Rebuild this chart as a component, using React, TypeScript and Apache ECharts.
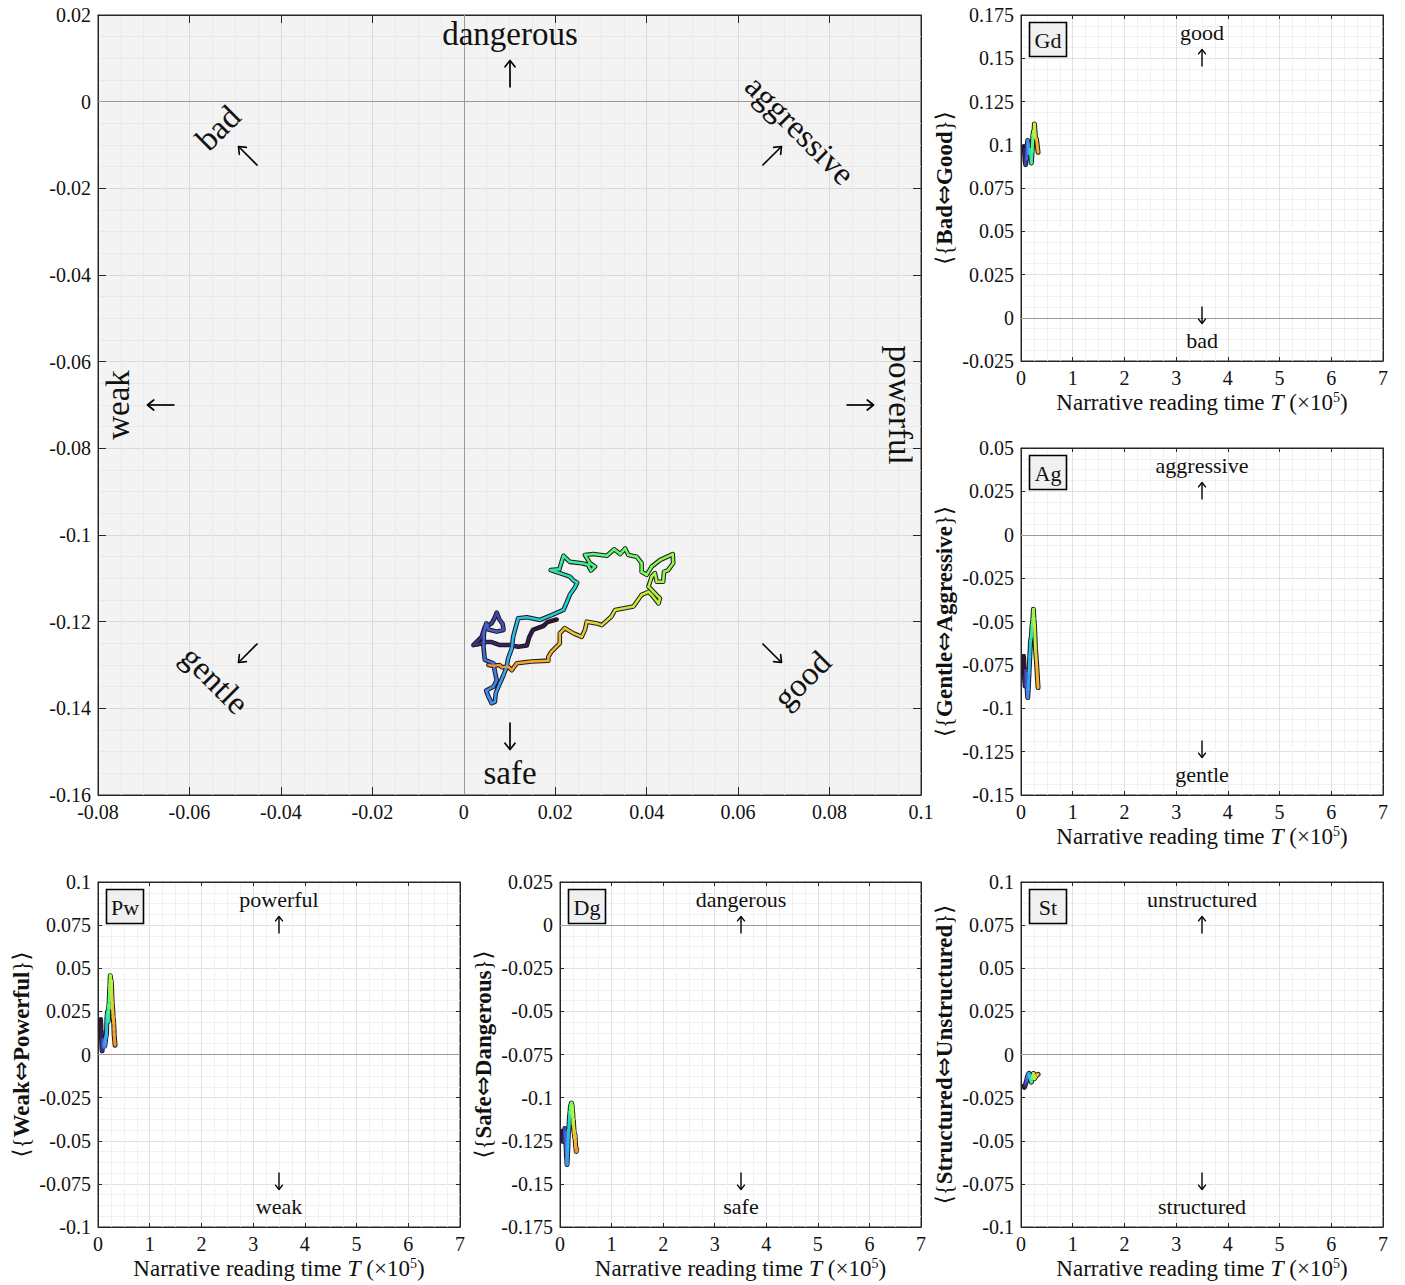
import React, { useEffect, useRef } from 'react';
import * as echarts from 'echarts';

// ---------- DATA ----------
// narrative reading time (x10^5) for each trajectory sample
const T = [
  0.050, 0.0525, 0.055, 0.0575, 0.060, 0.0625, 0.065, 0.0675, 0.070, 0.0725, 0.075, 0.0775, 0.080,
  0.083, 0.085, 0.088, 0.091, 0.093, 0.096, 0.099, 0.101, 0.104, 0.107, 0.109, 0.112, 0.115, 0.117,
  0.120, 0.123, 0.125, 0.128, 0.131, 0.133, 0.136, 0.139, 0.141, 0.144, 0.147, 0.150,
  0.153, 0.155, 0.158, 0.161, 0.163, 0.166, 0.168, 0.171, 0.174, 0.176, 0.179, 0.182, 0.184, 0.187,
  0.189, 0.192, 0.195, 0.197, 0.200,
  0.202, 0.203, 0.205, 0.207, 0.208, 0.210, 0.212, 0.213, 0.215, 0.217, 0.218, 0.220, 0.222, 0.223,
  0.225, 0.227, 0.228, 0.230,
  0.232, 0.234, 0.236, 0.238, 0.240, 0.241, 0.243, 0.245, 0.247, 0.249, 0.251, 0.253, 0.255, 0.256,
  0.258, 0.260, 0.262,
  0.265, 0.268, 0.271, 0.274, 0.277, 0.280, 0.283, 0.286, 0.288, 0.291, 0.294, 0.297, 0.300, 0.303,
  0.306, 0.309, 0.312, 0.315, 0.318, 0.321, 0.324, 0.327, 0.330,
];

// Weak <-> Powerful
const PW = [
  0.0203, 0.0183, 0.0174, 0.0151, 0.0143, 0.0138, 0.0119, 0.0101, 0.0079, 0.0061, 0.0043, 0.0032, 0.0021,
  0.0039, 0.0046, 0.0061, 0.0068, 0.0072, 0.0078, 0.0085, 0.0087, 0.0072, 0.0054, 0.0049, 0.0044, 0.0043,
  0.0046, 0.0065, 0.0068, 0.0072, 0.0065, 0.0049, 0.0054, 0.0061, 0.0068, 0.0070, 0.0079, 0.0087, 0.0094,
  0.0097, 0.0105, 0.0108, 0.0112, 0.0119, 0.0138, 0.0167, 0.0192, 0.0218, 0.0225, 0.0232, 0.0243, 0.0248,
  0.0240, 0.0232, 0.0210, 0.0190, 0.0209, 0.0214,
  0.0218, 0.0232, 0.0258, 0.0272, 0.0278, 0.0287, 0.0276, 0.0265, 0.0283, 0.0313, 0.0329, 0.0342, 0.0353,
  0.0360, 0.0378, 0.0389, 0.0389, 0.0400,
  0.0411, 0.0429, 0.0457, 0.0458, 0.0447, 0.0438, 0.0436, 0.0422, 0.0418, 0.0411, 0.0404, 0.0415, 0.0429,
  0.0426, 0.0411, 0.0404, 0.0389,
  0.0371, 0.0331, 0.0323, 0.0302, 0.0291, 0.0269, 0.0265, 0.0258, 0.0240, 0.0221, 0.0210, 0.0210, 0.0192,
  0.0185, 0.0185, 0.0148, 0.0116, 0.0105, 0.0097, 0.0083, 0.0078, 0.0065, 0.0054,
];

// Safe <-> Dangerous
const DG = [
  -0.1195, -0.1201, -0.1210, -0.1219, -0.1236, -0.1255, -0.1258, -0.1254, -0.1254, -0.1247, -0.1247, -0.1252, -0.1254,
  -0.1235, -0.1212, -0.1204, -0.1190, -0.1179, -0.1195, -0.1205, -0.1219, -0.1223, -0.1218, -0.1204, -0.1227, -0.1258,
  -0.1288, -0.1296, -0.1315, -0.1335, -0.1350, -0.1359, -0.1373, -0.1388, -0.1385, -0.1365, -0.1342, -0.1323, -0.1304,
  -0.1285, -0.1262, -0.1235, -0.1219, -0.1192, -0.1190, -0.1196, -0.1185, -0.1173, -0.1156, -0.1138, -0.1121, -0.1110,
  -0.1105, -0.1096, -0.1088, -0.1081, -0.1079, -0.1062,
  -0.1048, -0.1062, -0.1065, -0.1069, -0.1082, -0.1073, -0.1065, -0.1046, -0.1044, -0.1048, -0.1033, -0.1044, -0.1031,
  -0.1046, -0.1050, -0.1065, -0.1085, -0.1092,
  -0.1073, -0.1058, -0.1044, -0.1065, -0.1081, -0.1085, -0.1108, -0.1108, -0.1088, -0.1096, -0.1119, -0.1131, -0.1146,
  -0.1158, -0.1138, -0.1131, -0.1138,
  -0.1165, -0.1173, -0.1188, -0.1208, -0.1204, -0.1200, -0.1219, -0.1235, -0.1227, -0.1215, -0.1227, -0.1250, -0.1269,
  -0.1281, -0.1290, -0.1292, -0.1296, -0.1312, -0.1304, -0.1305, -0.1300, -0.1302, -0.1300,
];

const PANEL_T = [0.05, 0.065, 0.08, 0.09, 0.10, 0.11, 0.12, 0.13, 0.14, 0.155, 0.17, 0.185, 0.20, 0.215, 0.23, 0.24, 0.25, 0.26, 0.28, 0.30, 0.33];
const GD = [0.0989, 0.0974, 0.0901, 0.0885, 0.0923, 0.0919, 0.0995, 0.1025, 0.1005, 0.0950, 0.0974, 0.0951, 0.0895, 0.0962, 0.1055, 0.1077, 0.1066, 0.1120, 0.1039, 0.1032, 0.0957];
const AG = [-0.0701, -0.0805, -0.0872, -0.0783, -0.0800, -0.0859, -0.0893, -0.0938, -0.0893, -0.0797, -0.0702, -0.0612, -0.0587, -0.0520, -0.0489, -0.0429, -0.0484, -0.0518, -0.0658, -0.0735, -0.0881];
const ST = [-0.0185, -0.0190, -0.0180, -0.0170, -0.0160, -0.0150, -0.0135, -0.0125, -0.0115, -0.0110, -0.0125, -0.0145, -0.0160, -0.0140, -0.0120, -0.0110, -0.0125, -0.0140, -0.0130, -0.0120, -0.0115];

const TIME_RANGE = [0.05, 0.33];
const TURBO = ['#30123b', '#3a2a78', '#4454c4', '#4680f5', '#35aef7', '#1fd3d0', '#3cef98', '#7dfd5a', '#b9f53a', '#e4d038', '#f6ab33', '#f48a2c'];

// ---------- STYLE / LAYOUT ----------
const SERIF = '"Liberation Serif","DejaVu Serif",serif';
const SYM = '"DejaVu Sans","DejaVu Serif",sans-serif';
const INK = '#111111';
const AX = '#262626';

const GRIDS = [
  { left: 98, top: 15, width: 823, height: 780, bg: '#f3f3f3' },
  { left: 1021, top: 15, width: 362, height: 346, bg: '#ffffff' },
  { left: 1021, top: 448, width: 362, height: 347, bg: '#ffffff' },
  { left: 98, top: 882, width: 362, height: 345, bg: '#ffffff' },
  { left: 560, top: 882, width: 361, height: 345, bg: '#ffffff' },
  { left: 1021, top: 882, width: 362, height: 345, bg: '#ffffff' },
];
const X_SPEC = [
  { min: -0.08, max: 0.1, interval: 0.02, minor: 4 },
  { min: 0, max: 7, interval: 1, minor: 4 },
  { min: 0, max: 7, interval: 1, minor: 4 },
  { min: 0, max: 7, interval: 1, minor: 4 },
  { min: 0, max: 7, interval: 1, minor: 4 },
  { min: 0, max: 7, interval: 1, minor: 4 },
];
const Y_SPEC = [
  { min: -0.16, max: 0.02, interval: 0.02, minor: 4 },
  { min: -0.025, max: 0.175, interval: 0.025, minor: 4 },
  { min: -0.15, max: 0.05, interval: 0.025, minor: 4 },
  { min: -0.1, max: 0.1, interval: 0.025, minor: 4 },
  { min: -0.175, max: 0.025, interval: 0.025, minor: 4 },
  { min: -0.1, max: 0.1, interval: 0.025, minor: 4 },
];
const PANELS = [
  { grid: 1, tag: 'Gd', up: 'good', down: 'bad', lo: 'Bad', hi: 'Good' },
  { grid: 2, tag: 'Ag', up: 'aggressive', down: 'gentle', lo: 'Gentle', hi: 'Aggressive' },
  { grid: 3, tag: 'Pw', up: 'powerful', down: 'weak', lo: 'Weak', hi: 'Powerful' },
  { grid: 4, tag: 'Dg', up: 'dangerous', down: 'safe', lo: 'Safe', hi: 'Dangerous' },
  { grid: 5, tag: 'St', up: 'unstructured', down: 'structured', lo: 'Structured', hi: 'Unstructured' },
];

function buildOption() {
  const grid = GRIDS.map((g) => ({
    left: g.left, top: g.top, width: g.width, height: g.height,
    show: true, backgroundColor: g.bg, borderColor: AX, borderWidth: 1, containLabel: false,
  }));

  const xAxis: any[] = [];
  const yAxis: any[] = [];
  GRIDS.forEach((g, i) => {
    const tl = i === 0 ? 8 : 4;
    const major = i === 0 ? '#d9d9d9' : '#e1e1e1';
    const minor = i === 0 ? '#e9e9e9' : '#f1f1f1';
    const xs = X_SPEC[i];
    const ys = Y_SPEC[i];
    const common = (s: any) => ({
      type: 'value', gridIndex: i, min: s.min, max: s.max, interval: s.interval,
      axisLine: { show: true, onZero: false, lineStyle: { color: AX, width: 1 } },
      axisTick: { show: true, inside: true, length: tl, lineStyle: { color: AX, width: 1 } },
    });
    xAxis.push({
      ...common(xs), position: 'bottom',
      axisLabel: { show: true, color: INK, fontFamily: SERIF, fontSize: 20, margin: 7 },
      splitLine: { show: true, lineStyle: { color: major, width: 1 } },
      minorTick: { show: false, splitNumber: xs.minor },
      minorSplitLine: { show: true, lineStyle: { color: minor, width: 1 } },
      name: i === 0 ? '' : 'Narrative reading time {i|T} (×10{s|5})',
      nameLocation: 'middle', nameGap: 29,
      nameTextStyle: {
        color: INK, fontFamily: SERIF, fontSize: 23,
        rich: {
          i: { fontFamily: SERIF, fontSize: 24, fontStyle: 'italic', color: INK },
          s: { fontFamily: SERIF, fontSize: 14, color: INK, verticalAlign: 'top', padding: [0, 0, 8, 0] },
        },
      },
    });
    xAxis.push({
      ...common(xs), position: 'top',
      axisLabel: { show: false }, splitLine: { show: false },
    });
    const p = PANELS.find((q) => q.grid === i);
    yAxis.push({
      ...common(ys), position: 'left',
      axisLabel: { show: true, color: INK, fontFamily: SERIF, fontSize: 20, margin: 7 },
      splitLine: { show: true, lineStyle: { color: major, width: 1 } },
      minorTick: { show: false, splitNumber: ys.minor },
      minorSplitLine: { show: true, lineStyle: { color: minor, width: 1 } },
      name: p ? `⟨{{b|${p.lo}}{a|⇔}{b|${p.hi}}}⟩` : '',
      nameLocation: 'middle', nameGap: 65,
      nameTextStyle: {
        color: INK, fontFamily: SERIF, fontSize: 23,
        rich: {
          b: { fontFamily: SERIF, fontSize: 23, fontWeight: 'bold', color: INK },
          a: { fontFamily: SYM, fontSize: 24, color: INK },
        },
      },
    });
    yAxis.push({
      ...common(ys), position: 'right',
      axisLabel: { show: false }, splitLine: { show: false },
    });
  });

  const zeroLine = (both: boolean) => ({
    silent: true, symbol: 'none', animation: false,
    label: { show: false },
    lineStyle: { color: '#9a9a9a', width: 1, type: 'solid' },
    data: both ? [{ yAxis: 0 }, { xAxis: 0 }] : [{ yAxis: 0 }],
  });

  const renderSeg = (width: number) => (params: any, api: any) => {
    const p1 = api.coord([api.value(0), api.value(1)]);
    const p2 = api.coord([api.value(2), api.value(3)]);
    return {
      type: 'line',
      shape: { x1: p1[0], y1: p1[1], x2: p2[0], y2: p2[1] },
      style: { stroke: api.visual('color'), lineWidth: width, lineCap: 'round', lineJoin: 'round', fill: null },
    };
  };

  const traj = [
    { gi: 0, xs: PW, ys: DG, ts: T, ow: 4.6, cw: 2.5, both: true },
    { gi: 1, xs: PANEL_T, ys: GD, ts: PANEL_T, ow: 5, cw: 3, both: false },
    { gi: 2, xs: PANEL_T, ys: AG, ts: PANEL_T, ow: 5, cw: 3, both: false },
    { gi: 3, xs: T, ys: PW, ts: T, ow: 5, cw: 3, both: false },
    { gi: 4, xs: T, ys: DG, ts: T, ow: 5, cw: 3, both: false },
    { gi: 5, xs: PANEL_T, ys: ST, ts: PANEL_T, ow: 5, cw: 3, both: false },
  ];

  const series: any[] = [];
  const colorSeries: number[] = [];
  traj.forEach((tr) => {
    series.push({
      type: 'line', xAxisIndex: tr.gi * 2, yAxisIndex: tr.gi * 2,
      data: tr.xs.map((x, k) => [x, tr.ys[k]]),
      showSymbol: false, symbol: 'none', silent: true, z: 2,
      lineStyle: { color: '#1c1c1c', width: tr.ow, cap: 'round', join: 'round' },
      markLine: zeroLine(tr.both),
    });
    const segs: number[][] = [];
    for (let k = 0; k < tr.xs.length - 1; k++) {
      segs.push([tr.xs[k], tr.ys[k], tr.xs[k + 1], tr.ys[k + 1], tr.ts[k]]);
    }
    colorSeries.push(series.length);
    series.push({
      type: 'custom', xAxisIndex: tr.gi * 2, yAxisIndex: tr.gi * 2,
      data: segs, encode: { x: [0, 2], y: [1, 3] }, silent: true, z: 3,
      renderItem: renderSeg(tr.cw),
    });
  });

  // ---------- annotation texts and arrows ----------
  const txt = (x: number, y: number, text: string, size: number, rot = 0) => ({
    type: 'text', x, y, rotation: rot, silent: true, z: 20,
    style: { text, fontFamily: SERIF, fontSize: size, fill: INK, align: 'center', verticalAlign: 'middle' },
  });
  // arrow pointing "up" at rotation 0; rotation is counter-clockwise
  const arrow = (cx: number, cy: number, len: number, head: number, rot: number, lw: number) => ({
    type: 'group', x: cx, y: cy, rotation: rot, silent: true, z: 30,
    children: [
      { type: 'line', z: 30, shape: { x1: 0, y1: len / 2, x2: 0, y2: -len / 2 + 0.8 }, style: { stroke: '#000', lineWidth: lw } },
      {
        type: 'polyline', z: 30,
        shape: { points: [[-head, -len / 2 + head * 1.25], [0, -len / 2], [head, -len / 2 + head * 1.25]] },
        style: { stroke: '#000', lineWidth: lw, fill: null, lineJoin: 'round', lineCap: 'round' },
      },
    ],
  });
  const Q = Math.PI / 4;
  const graphic: any[] = [
    txt(510, 34, 'dangerous', 33), arrow(510, 74, 27, 5, 0, 1.7),
    txt(510, 773, 'safe', 33), arrow(510, 736, 27, 5, Math.PI, 1.7),
    txt(118, 405, 'weak', 33, Math.PI / 2), arrow(161, 405, 27, 5, Math.PI / 2, 1.7),
    txt(900, 405, 'powerful', 33, -Math.PI / 2), arrow(860, 405, 27, 5, -Math.PI / 2, 1.7),
    txt(218, 128, 'bad', 33, Q), arrow(248, 156, 27, 5, Q, 1.6),
    txt(800, 130, 'aggressive', 33, -Q), arrow(772, 156, 27, 5, -Q, 1.6),
    txt(215, 680, 'gentle', 33, -Q), arrow(248, 653, 27, 5, 3 * Q, 1.6),
    txt(802, 680, 'good', 33, Q), arrow(772, 653, 27, 5, -3 * Q, 1.6),
  ];
  PANELS.forEach((p) => {
    const g = GRIDS[p.grid];
    const cx = Math.round(g.left + 3.5 * (g.width / 7));
    graphic.push(txt(cx, g.top + 17, p.up, 22));
    graphic.push(arrow(cx, g.top + 43, 17, 3.5, 0, 1.4));
    graphic.push(arrow(cx, g.top + g.height - 46, 17, 3.5, Math.PI, 1.4));
    graphic.push(txt(cx, g.top + g.height - 21, p.down, 22));
    graphic.push({
      type: 'rect', silent: true, z: 20,
      shape: { x: g.left + 8.5, y: g.top + 7.5, width: 37, height: 34 },
      style: { fill: '#f0f0f0', stroke: '#000000', lineWidth: 1.6 },
    });
    graphic.push(txt(g.left + 27, g.top + 25, p.tag, 22));
  });

  return {
    animation: false,
    backgroundColor: '#ffffff',
    grid, xAxis, yAxis, series, graphic,
    visualMap: [{
      type: 'continuous', show: false, dimension: 4,
      min: TIME_RANGE[0], max: TIME_RANGE[1],
      seriesIndex: colorSeries,
      inRange: { color: TURBO },
    }],
  };
}

export default function App() {
  const ref = useRef<HTMLDivElement>(null);
  useEffect(() => {
    if (!ref.current) return;
    const chart = echarts.init(ref.current, undefined, { renderer: 'svg' });
    chart.setOption(buildOption() as any);
    return () => chart.dispose();
  }, []);
  return (
    <div
      ref={ref}
      style={{ position: 'absolute', left: 0, top: 0, width: 1405, height: 1285, background: '#fff' }}
    />
  );
}
